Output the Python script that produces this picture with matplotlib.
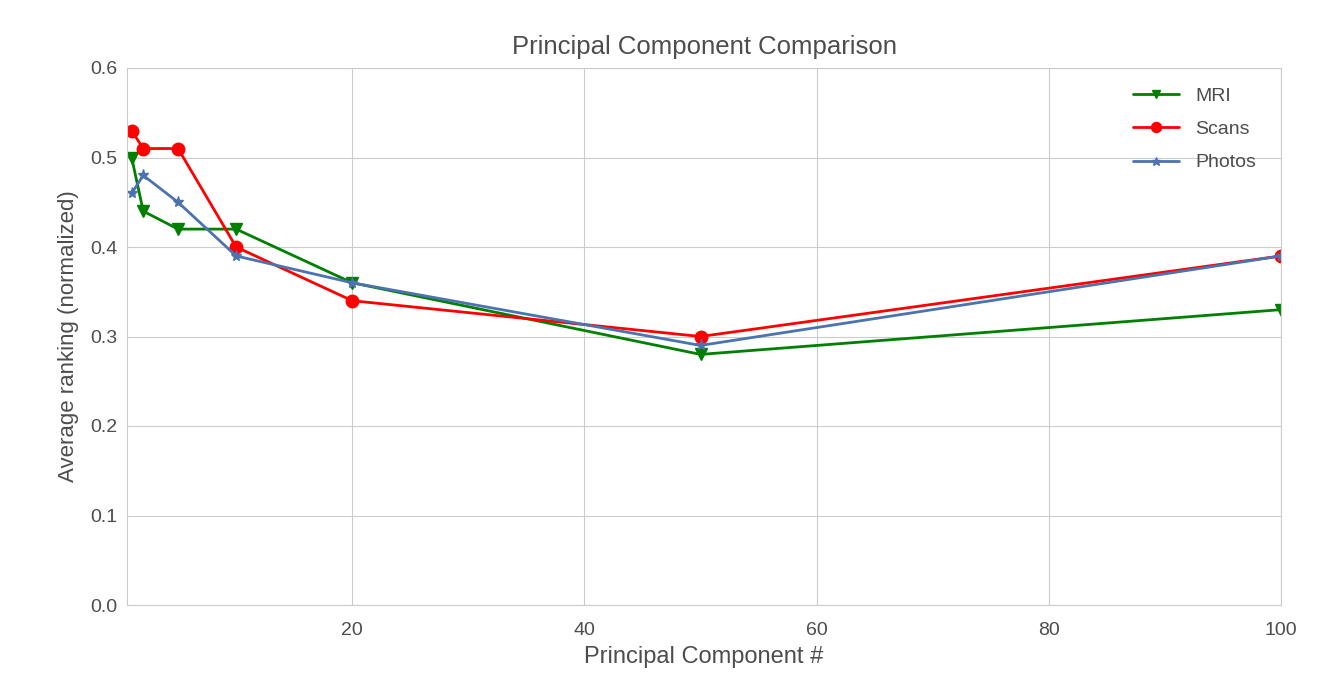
import numpy as np
import matplotlib.pyplot as plt
import seaborn as sns

sns.set_style('whitegrid')
plt.rcParams['font.family'] = ['Liberation Sans', 'DejaVu Sans']

components = [1, 2, 5, 10, 20, 50, 100]
mri = [0.50, 0.44, 0.42, 0.42, 0.36, 0.28, 0.33]
scans = [0.53, 0.51, 0.51, 0.40, 0.34, 0.30, 0.39]
photos = [0.46, 0.48, 0.45, 0.39, 0.36, 0.29, 0.39]

txt = '.3'

fig = plt.figure(figsize=(13.24, 6.75), dpi=100)
ax = fig.add_axes([127/1324, 70/675, (1281-127)/1324, (605-68)/675])

ax.plot(components, mri, 'g-v', lw=2, ms=8, label='MRI')
ax.plot(components, scans, 'r-o', lw=2, ms=9, label='Scans')
ax.plot(components, photos, '-*', color='#4C72B0', lw=2, ms=8, label='Photos')

ax.set_xlim(0.6, 100)
ax.set_ylim(0, 0.6)
ax.set_xticks([20, 40, 60, 80, 100])
ax.set_yticks(np.arange(0, 0.61, 0.1))
ax.tick_params(labelsize=14, colors=txt)
ax.tick_params(axis='x', pad=9)
ax.set_title('Principal Component Comparison', fontsize=18.5, color=txt, pad=10)
ax.set_xlabel('Principal Component #', fontsize=17, color=txt, labelpad=5)
ax.set_ylabel('Average ranking (normalized)', fontsize=16, color=txt, labelpad=8)
leg = ax.legend(loc='upper right', fontsize=14, frameon=False, handlelength=2.4,
                markerscale=0.8, labelspacing=0.8, borderaxespad=0.6,
                bbox_to_anchor=(0.995, 1.0))
for t in leg.get_texts():
    t.set_color(txt)

plt.savefig('out.png')
